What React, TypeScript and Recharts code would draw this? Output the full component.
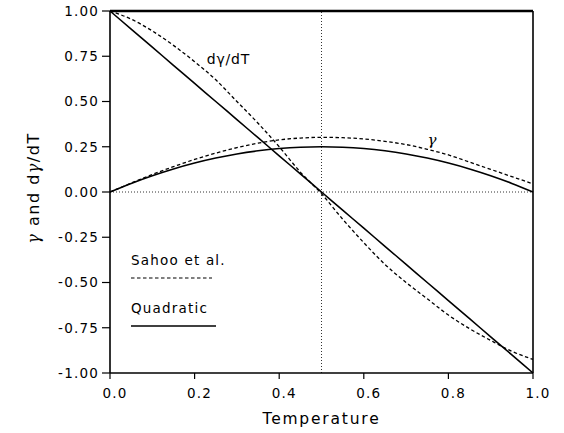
import React from 'react';
import { LineChart, Line, XAxis, YAxis, ReferenceLine, ReferenceDot, Legend } from 'recharts';

const temperature = [0, 0.05, 0.1, 0.15, 0.2, 0.25, 0.3, 0.35, 0.4, 0.45, 0.5, 0.55, 0.6, 0.65, 0.7, 0.75, 0.8, 0.85, 0.9, 0.95, 1.0];
const sahooGamma = [0, 0.049, 0.097, 0.14, 0.18, 0.215, 0.245, 0.27, 0.288, 0.298, 0.302, 0.3, 0.293, 0.28, 0.262, 0.236, 0.205, 0.165, 0.125, 0.085, 0.045];
const sahooDeriv = [1.0, 0.955, 0.89, 0.81, 0.72, 0.62, 0.5, 0.38, 0.25, 0.11, -0.01, -0.15, -0.28, -0.4, -0.5, -0.59, -0.68, -0.755, -0.82, -0.88, -0.925];
const quadGamma = [0, 0.0475, 0.09, 0.1275, 0.16, 0.1875, 0.21, 0.2275, 0.24, 0.2475, 0.25, 0.2475, 0.24, 0.2275, 0.21, 0.1875, 0.16, 0.1275, 0.09, 0.0475, 0];
const quadDeriv = [1.0, 0.9, 0.8, 0.7, 0.6, 0.5, 0.4, 0.3, 0.2, 0.1, 0, -0.1, -0.2, -0.3, -0.4, -0.5, -0.6, -0.7, -0.8, -0.9, -1.0];

const xTicks = [0, 0.2, 0.4, 0.6, 0.8, 1.0];
const yTicks = [1.0, 0.75, 0.5, 0.25, 0, -0.25, -0.5, -0.75, -1.0];

const legendItems = [
  { name: 'Sahoo et al.', dash: '3.5 2.5' },
  { name: 'Quadratic', dash: undefined as string | undefined },
];

const data = temperature.map((t, i) => ({
  t,
  sahooGamma: sahooGamma[i],
  sahooDeriv: sahooDeriv[i],
  quadGamma: quadGamma[i],
  quadDeriv: quadDeriv[i],
}));

const FONT = '"DejaVu Sans", "Liberation Sans", Arial, sans-serif';
const DASH = '3.5 2.5';

const XTick = (props: any) => {
  const { x, y, payload } = props;
  return (
    <text x={x + 5} y={y} dy="0.71em" textAnchor="middle" fontFamily={FONT} fontSize={13.5} letterSpacing={1.2} fill="#000">
      {Number(payload.value).toFixed(1)}
    </text>
  );
};

const YTick = (props: any) => {
  const { x, y, payload } = props;
  return (
    <text x={x} y={y} dy="0.355em" textAnchor="end" fontFamily={FONT} fontSize={13.5} letterSpacing={1.2} fill="#000">
      {Number(payload.value).toFixed(2)}
    </text>
  );
};

const LegendContent = () => (
  <div style={{ position: 'relative', width: 110, height: 90, fontFamily: FONT, fontSize: 13.5, letterSpacing: 1.2, color: '#000' }}>
    {legendItems.map((it, i) => (
      <div key={it.name} style={{ position: 'absolute', left: 0, top: i * 48 }}>
        <div style={{ lineHeight: '16px', height: 16, whiteSpace: 'nowrap' }}>{it.name}</div>
        <svg width={90} height={8} style={{ position: 'absolute', left: 0, top: 22 }}>
          <line x1={0} y1={4} x2={i === 0 ? 81 : 85} y2={4} stroke="#000" strokeWidth={i === 0 ? 1.2 : 1.6} strokeDasharray={it.dash} />
        </svg>
      </div>
    ))}
  </div>
);

export default function App() {
  return (
    <div style={{ position: 'absolute', left: 0, top: 0, width: 564, height: 433, background: '#fff' }}>
      <LineChart width={564} height={433} data={data} margin={{ top: 11, right: 31, left: 0, bottom: 0 }}>
        <XAxis
          dataKey="t"
          type="number"
          domain={[0, 1]}
          ticks={xTicks}
          tick={<XTick />}
          tickSize={6}
          tickMargin={9}
          height={60}
          axisLine={{ stroke: '#000', strokeWidth: 1.6 }}
          tickLine={{ stroke: '#000', strokeWidth: 1.2 }}
          label={{
            value: 'Temperature',
            position: 'insideBottom',
            offset: 9,
            style: { fontFamily: FONT, fontSize: 15.5, letterSpacing: 1.8, fill: '#000' },
          }}
        />
        <YAxis
          type="number"
          domain={[-1, 1]}
          ticks={yTicks}
          tick={<YTick />}
          tickSize={8}
          tickMargin={3}
          width={110}
          interval={0}
          axisLine={{ stroke: '#000', strokeWidth: 1.6 }}
          tickLine={{ stroke: '#000', strokeWidth: 1.2 }}
          label={(props: any) => {
            const vb = props.viewBox || {};
            const cx = 33;
            const cy = (vb.y ?? 11) + (vb.height ?? 362) / 2 - 4;
            return (
              <text x={cx} y={cy} transform={`rotate(-90, ${cx}, ${cy})`} textAnchor="middle" dominantBaseline="central" fontFamily={FONT} fontSize={16} letterSpacing={1.5} fill="#000">
                <tspan fontFamily='"DejaVu Serif", serif' fontStyle="italic">γ</tspan> and d<tspan fontFamily='"DejaVu Serif", serif' fontStyle="italic">γ</tspan>/dT
              </text>
            );
          }}
        />
        <ReferenceLine y={1} stroke="#000" strokeWidth={2.4} />
        <ReferenceLine x={1} stroke="#000" strokeWidth={1.6} />
        <ReferenceLine y={0} stroke="#333" strokeWidth={1} strokeDasharray="1 2" />
        <ReferenceLine x={0.5} stroke="#333" strokeWidth={1} strokeDasharray="1 2" />
        <Line type="monotone" dataKey="sahooDeriv" stroke="#000" strokeWidth={1.3} strokeDasharray={DASH} dot={false} isAnimationActive={false} />
        <Line type="monotone" dataKey="sahooGamma" stroke="#000" strokeWidth={1.3} strokeDasharray={DASH} dot={false} isAnimationActive={false} />
        <Line type="monotone" dataKey="quadDeriv" stroke="#000" strokeWidth={1.6} dot={false} isAnimationActive={false} />
        <Line type="monotone" dataKey="quadGamma" stroke="#000" strokeWidth={1.6} dot={false} isAnimationActive={false} />
        <ReferenceDot
          x={0.28}
          y={0.735}
          r={0}
          fill="none"
          stroke="none"
          label={{ value: 'dγ/dT', position: 'center', style: { fontFamily: FONT, fontSize: 14, letterSpacing: 0.8, fill: '#000' } }}
        />
        <ReferenceDot
          x={0.761}
          y={0.29}
          r={0}
          fill="none"
          stroke="none"
          label={{ value: 'γ', position: 'center', style: { fontFamily: '"DejaVu Serif", serif', fontStyle: 'italic', fontSize: 15, fill: '#000' } }}
        />
        <Legend
          layout="vertical"
          align="center"
          verticalAlign="middle"
          content={<LegendContent />}
          wrapperStyle={{ position: 'absolute', left: 131, top: 252, width: 110, height: 90 }}
        />
      </LineChart>
    </div>
  );
}
